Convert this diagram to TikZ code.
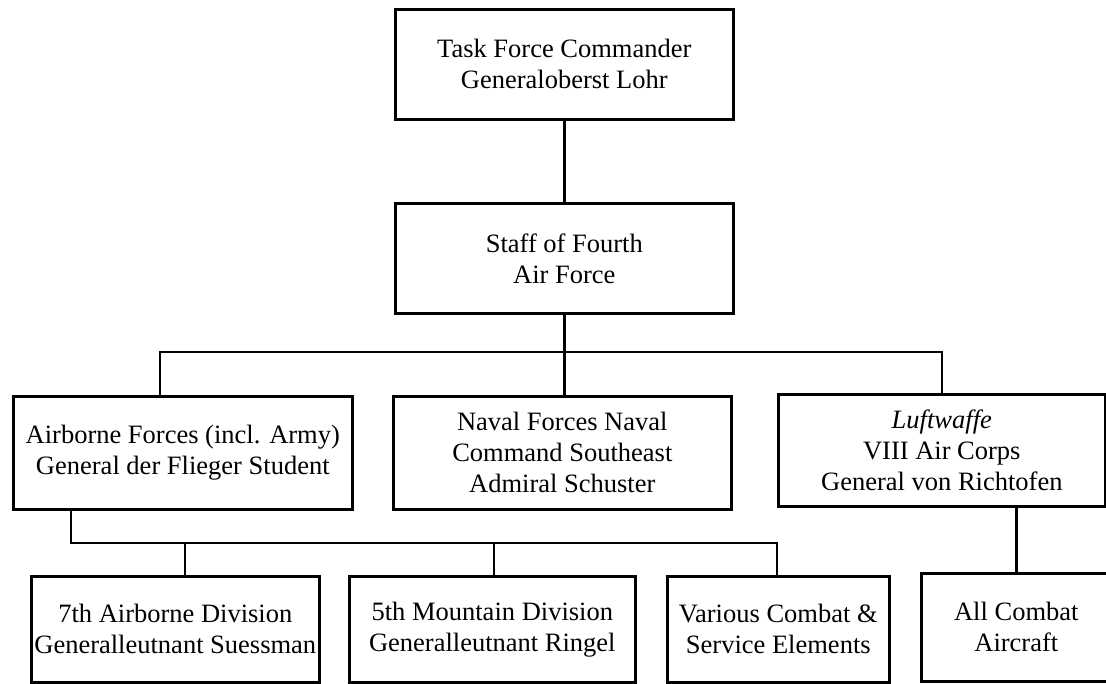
\documentclass[tikz,border=0pt]{standalone}
\usepackage{fontspec}
\setmainfont{Liberation Serif}
\begin{document}
\begin{tikzpicture}[x=1pt,y=-1pt, line join=miter, font=\fontsize{26.5}{31}\selectfont,
    box/.style={draw, line width=2.6pt, align=center, inner sep=0pt, anchor=north west},
    conn/.style={line width=2.6pt}]
    \useasboundingbox (0,0) rectangle (1106,683);
    % top of the chain
    \node[box, minimum width=338, minimum height=110] (tfc) at (394,8) {Task Force Commander\\Generaloberst Lohr};
    \node[box, minimum width=338, minimum height=110] (staff) at (394,202) {Staff of Fourth\\Air Force};
    % middle row
    \node[box, minimum width=339, minimum height=113] (airborne) at (12,395) {Airborne Forces (incl. Army)\\General der Flieger Student};
    \node[box, minimum width=338, minimum height=113] (naval) at (392,395) {Naval Forces Naval\\Command Southeast\\Admiral Schuster};
    \node[box, minimum width=327, minimum height=112] (luft) at (777,393) {\textit{Luftwaffe}\\VIII Air Corps\\General von Richtofen};
    % bottom row
    \node[box, minimum width=288, minimum height=106] (seventh) at (30,575) {7th Airborne Division\\Generalleutnant Suessman};
    \node[box, minimum width=286, minimum height=106] (fifth) at (348,575) {5th Mountain Division\\Generalleutnant Ringel};
    \node[box, minimum width=222, minimum height=106] (various) at (666,575) {Various Combat \&\\Service Elements};
    \node[box, minimum width=190, minimum height=108] (allc) at (920,572) {All Combat\\Aircraft};
    % bus points
    \coordinate (b1l) at (160,352);
    \coordinate (b1r) at (942,352);
    \coordinate (b2l) at (71,543);
    \coordinate (b2r) at (777,543);
    \coordinate (t7) at (185,543);
    \coordinate (t5) at (494,543);
    % connectors
    \draw[conn] (tfc.south) -- (staff.north);
    \draw[conn] (staff.south) -- (staff.south |- naval.north);
    \draw[conn] (airborne.north -| b1l) -- (b1l) -- (b1r) -- (luft.north -| b1r);
    \draw[conn] (airborne.south -| b2l) -- (b2l) -- (b2r) -- (various.north -| b2r);
    \draw[conn] (t7) -- (seventh.north -| t7);
    \draw[conn] (t5) -- (fifth.north -| t5);
    \draw[conn] (luft.south -| allc.north) -- (allc.north);
\end{tikzpicture}
\end{document}
